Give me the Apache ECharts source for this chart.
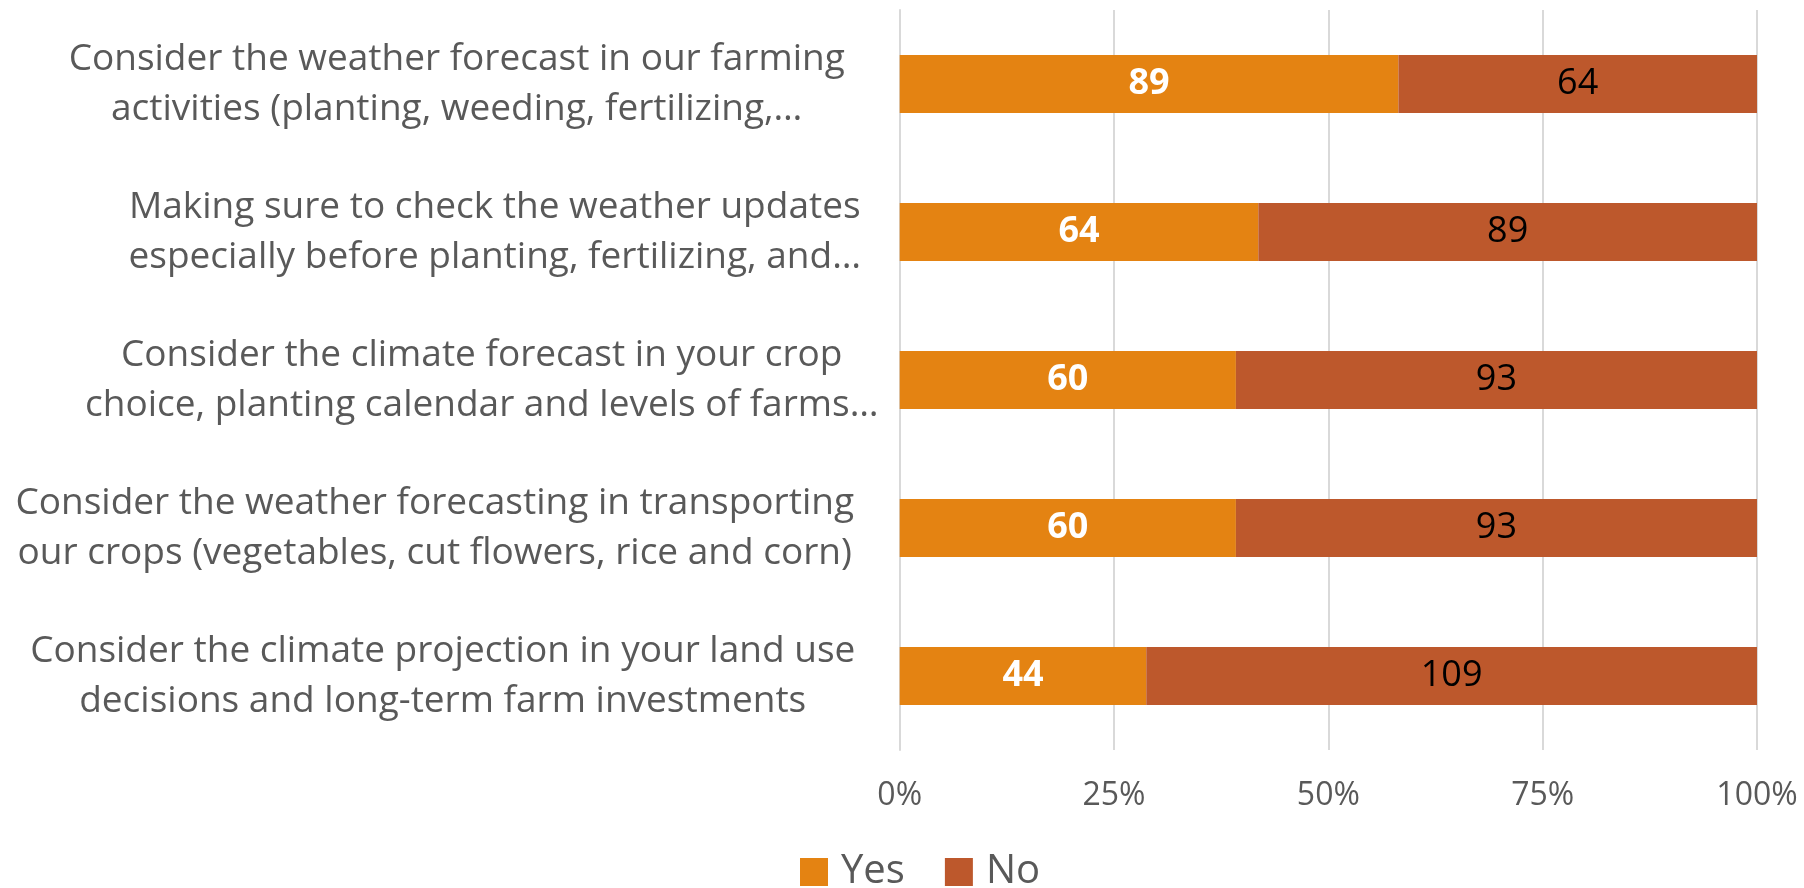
<!DOCTYPE html>
<html>
<head>
<meta charset="utf-8">
<script src="https://cdn.jsdelivr.net/npm/echarts@6/dist/echarts.min.js"></script>
<style>html,body{margin:0;padding:0;background:#fff}#c{width:1804px;height:888px}</style>
</head>
<body>
<div id="c"></div>
<script>
const categories = [
  "Consider the weather forecast in our farming\nactivities (planting, weeding, fertilizing,…",
  "Making sure to check the weather updates\nespecially before planting, fertilizing, and…",
  "Consider the climate forecast in your crop\nchoice, planting calendar and levels of farms…",
  "Consider the weather forecasting in transporting\nour crops (vegetables, cut flowers, rice and corn)",
  "Consider the climate projection in your land use\ndecisions and long-term farm investments"
];
const yesValues = [89, 64, 60, 60, 44];
const noValues = [64, 89, 93, 93, 109];
const tickPercents = [0, 25, 50, 75, 100];

// horizontal nudges of each category label (px, positive = right) — style only
const labelShift = [16, 54, 41, -6, 2];

const total = yesValues[0] + noValues[0];
const FONT = "'Open Sans', sans-serif";
const TXT = '#595959';

const rich = {};
labelShift.forEach((s, i) => {
  rich['s' + i] = {
    fontSize: 37, lineHeight: 50, color: TXT, fontFamily: FONT,
    padding: s >= 0 ? [0, 0, 0, 2 * s] : [0, -2 * s, 0, 0]
  };
});

const chart = echarts.init(document.getElementById('c'));
chart.setOption({
  animation: false,
  textStyle: { fontFamily: FONT },
  grid: { left: 897, right: 47, top: 10, bottom: 138, containLabel: false },
  legend: {
    data: ['Yes', 'No'],
    left: 800, top: 851, padding: 0,
    itemWidth: 28, itemHeight: 28, itemGap: 40,
    icon: 'rect',
    textStyle: { fontSize: 40, lineHeight: 42, color: TXT, fontFamily: FONT, padding: [0, 0, 0, 8] }
  },
  xAxis: {
    type: 'value', min: 0, max: total, interval: total / 4,
    axisLine: { show: false }, axisTick: { show: false },
    splitLine: { lineStyle: { color: '#D9D9D9', width: 2 } },
    axisLabel: {
      fontSize: 32, color: TXT, margin: 30,
      formatter: v => {
        const p = Math.round(v / total * 100);
        return tickPercents.includes(p) ? p + '%' : '';
      }
    }
  },
  yAxis: {
    type: 'category', data: categories, inverse: true,
    axisLine: { show: true, lineStyle: { color: '#D9D9D9', width: 2 } },
    axisTick: { show: false },
    axisLabel: {
      fontSize: 37, color: TXT, align: 'center', margin: 459, lineHeight: 50,
      formatter: (value, idx) => '{s' + idx + '|' + value + '}',
      rich: rich
    }
  },
  series: [
    {
      name: 'Yes', type: 'bar', stack: 't', data: yesValues, barWidth: 58,
      itemStyle: { color: '#E48312' },
      label: { show: true, position: 'inside', color: '#fff', fontWeight: 'bold', fontSize: 36, fontFamily: FONT }
    },
    {
      name: 'No', type: 'bar', stack: 't', data: noValues, barWidth: 58,
      itemStyle: { color: '#BD582C' },
      label: { show: true, position: 'inside', color: '#000', fontSize: 36, fontFamily: FONT }
    }
  ]
});
</script>
</body>
</html>
